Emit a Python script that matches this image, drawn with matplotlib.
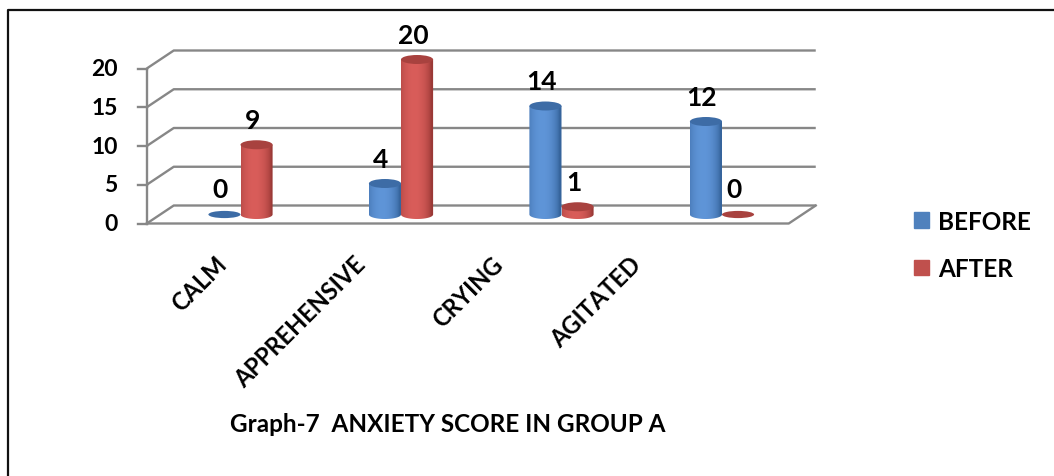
import numpy as np
import matplotlib.pyplot as plt
from matplotlib.patches import Ellipse, Polygon, Patch
from matplotlib.lines import Line2D
from matplotlib.colors import to_rgb

categories = ['CALM', 'APPREHENSIVE', 'CRYING', 'AGITATED']
before = [0, 4, 14, 12]
after = [9, 20, 1, 0]
yticks = [0, 5, 10, 15, 20]

plt.rcParams['font.family'] = ['Lato', 'DejaVu Sans']
plt.rcParams['font.weight'] = 'bold'

W, H = 1054, 477
fig = plt.figure(figsize=(W / 100, H / 100), dpi=100)
ax = fig.add_axes([0, 0, 1, 1])
ax.axis('off')

# scale: one category step = 160.5 px, one score point = 7.75 px
XPX, YPX = 160.5, 7.75
X0, Y0 = 240.5, 215.5
DX, DY = 13.5 / XPX, 9 / YPX      # half depth of the 3d box
r = 0.1                           # cylinder radius (category units)
b = 4.5 / YPX                     # ellipse half height
GRID = '#878787'

blue = dict(dark='#36649c', light='#5f95d8', top='#3d6ca6')
red = dict(dark='#9a3936', light='#d95d5a', top='#a8423f')


def gradient(dark, light, n=80):
    t = np.linspace(-1, 1, n)
    w = np.clip(1 - ((t + 0.2) / 1.05) ** 2, 0, 1) ** 0.7
    d, l = np.array(to_rgb(dark)), np.array(to_rgb(light))
    return d[None, :] * (1 - w[:, None]) + l[None, :] * w[:, None]


def cylinder(xc, h, c):
    if h <= 0:
        ax.add_patch(Ellipse((xc, 0), 2 * r, 1.6 * b, facecolor=c['top'],
                             edgecolor='none', zorder=5))
        return
    th = np.linspace(0, np.pi, 40)
    bottom = np.column_stack([xc + r * np.cos(th), -b * np.sin(th)])
    body = np.vstack([[xc - r, h], [xc + r, h], bottom])
    poly = Polygon(body, closed=True, facecolor='none', edgecolor='none')
    ax.add_patch(poly)
    im = ax.imshow(gradient(c['dark'], c['light'])[None, :, :],
                   extent=[xc - r, xc + r, -b, h], aspect='auto',
                   interpolation='bilinear', zorder=4)
    im.set_clip_path(poly)
    ax.add_patch(Ellipse((xc, h), 2 * r, 2 * b, facecolor=c['top'],
                         edgecolor='none', zorder=5))


n = len(categories)
left, right = -0.5, n - 0.5

# back wall gridlines + side wall diagonals
for v in yticks:
    ax.plot([left - DX, left + DX, right + DX], [v - DY, v + DY, v + DY],
            color=GRID, lw=1.7, zorder=1, solid_capstyle='butt')
    ax.plot([left - DX - 9 / XPX, left - DX], [v - DY, v - DY],
            color=GRID, lw=1.7, zorder=1)
    ax.text(left - DX - 29 / XPX, v - DY, str(v), ha='right', va='center',
            fontsize=16.5)

# front axis and floor edges
ax.plot([left - DX, left - DX], [-DY, yticks[-1] - DY], color=GRID, lw=1.7, zorder=1)
ax.plot([left - DX, right - DX, right + DX], [-DY, -DY, DY], color=GRID, lw=1.7,
        zorder=1)

for i in range(n):
    for x, v, c in [(i - r, before[i], blue), (i + r, after[i], red)]:
        cylinder(x, v, c)
        ax.text(x - 4 / XPX, v + 17 / YPX, str(v), ha='center', va='baseline',
                fontsize=19, zorder=6)
    lx = (215 - X0) / XPX + i * 138 / XPX
    ax.text(lx, (Y0 - 253) / YPX, categories[i], rotation=45,
            rotation_mode='anchor', ha='right', va='top', fontsize=17)

ax.set_xlim(-X0 / XPX, (W - X0) / XPX)
ax.set_ylim((Y0 - H) / YPX, Y0 / YPX)

handles = [Patch(color='#4f81bd'), Patch(color='#c0504d')]
fig.legend(handles, ['BEFORE', 'AFTER'], loc='center left',
           bbox_to_anchor=(914 / W, 1 - 246 / H), frameon=False, fontsize=17.5,
           handlelength=0.62, handleheight=0.62, handletextpad=0.37,
           labelspacing=1.0, borderpad=0, borderaxespad=0)

fig.text(448 / W, 1 - 425 / H, 'Graph-7  ANXIETY SCORE IN GROUP A',
         ha='center', va='center', fontsize=17.5)

fig.add_artist(Line2D([8 / W, 8 / W, 1], [0, 1 - 11 / H, 1 - 11 / H],
                      color='#111111', lw=1.6))

fig.savefig('out.png', dpi=100)
